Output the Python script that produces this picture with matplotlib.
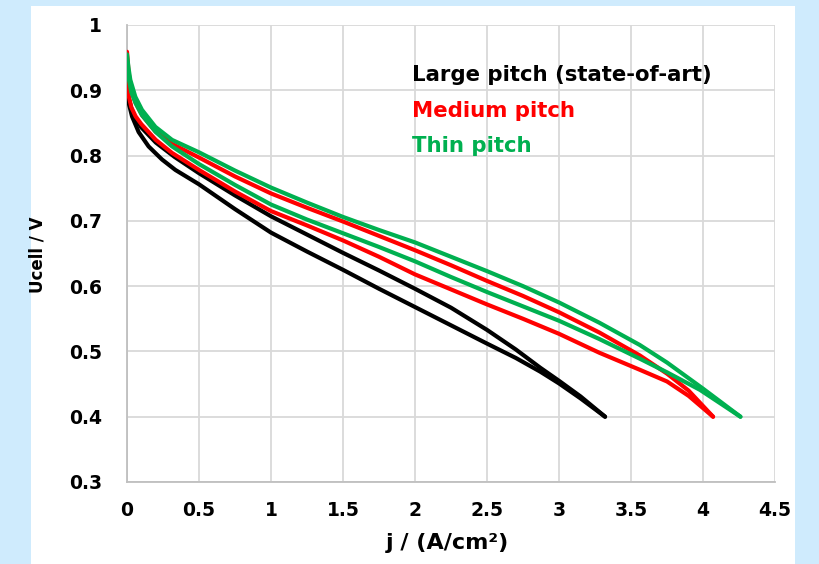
import matplotlib
matplotlib.use('Agg')
import matplotlib.pyplot as plt
from matplotlib.patches import Rectangle

plt.rcParams['font.family'] = ['DejaVu Sans']
plt.rcParams['font.weight'] = 'bold'

# polarization curves, each measured up and down (hysteresis)
largeUpJ = [0, 0.01, 0.03, 0.06, 0.1, 0.2, 0.33, 0.5, 0.75, 1.0, 1.25, 1.5, 1.75, 2.0, 2.25, 2.5, 2.7, 2.87, 3.0, 3.15, 3.32]
largeUpV = [0.906, 0.89, 0.872, 0.856, 0.843, 0.82, 0.798, 0.773, 0.739, 0.707, 0.679, 0.651, 0.624, 0.596, 0.567, 0.533, 0.503, 0.475, 0.455, 0.431, 0.40]
largeDownJ = [0, 0.01, 0.035, 0.081, 0.15, 0.243, 0.336, 0.5, 0.75, 1.0, 1.25, 1.5, 1.75, 2.0, 2.25, 2.5, 2.7, 2.87, 3.0, 3.15, 3.32]
largeDownV = [0.900, 0.882, 0.860, 0.836, 0.814, 0.794, 0.778, 0.756, 0.718, 0.682, 0.653, 0.625, 0.596, 0.568, 0.540, 0.512, 0.49, 0.469, 0.451, 0.428, 0.40]

mediumUpJ = [0, 0.01, 0.023, 0.058, 0.104, 0.197, 0.313, 0.5, 0.75, 1.0, 1.25, 1.5, 1.75, 2.0, 2.25, 2.5, 2.75, 3.0, 3.28, 3.56, 3.75, 3.9, 4.07]
mediumUpV = [0.959, 0.93, 0.908, 0.882, 0.862, 0.837, 0.818, 0.797, 0.768, 0.742, 0.72, 0.699, 0.677, 0.655, 0.632, 0.608, 0.585, 0.560, 0.529, 0.494, 0.466, 0.440, 0.40]
mediumDownJ = [0, 0.01, 0.03, 0.06, 0.1, 0.2, 0.313, 0.5, 0.75, 1.0, 1.25, 1.5, 1.75, 2.0, 2.25, 2.5, 2.75, 3.0, 3.28, 3.56, 3.75, 3.9, 4.07]
mediumDownV = [0.912, 0.893, 0.874, 0.86, 0.848, 0.824, 0.804, 0.778, 0.745, 0.715, 0.693, 0.670, 0.645, 0.618, 0.595, 0.572, 0.550, 0.527, 0.498, 0.472, 0.454, 0.432, 0.40]

thinUpJ = [0, 0.01, 0.023, 0.058, 0.104, 0.197, 0.313, 0.5, 0.75, 1.0, 1.25, 1.5, 1.75, 2.0, 2.25, 2.5, 2.75, 3.0, 3.28, 3.56, 3.75, 4.0, 4.26]
thinUpV = [0.955, 0.935, 0.916, 0.890, 0.870, 0.844, 0.824, 0.805, 0.777, 0.751, 0.728, 0.706, 0.686, 0.667, 0.645, 0.623, 0.600, 0.575, 0.544, 0.510, 0.483, 0.443, 0.40]
thinDownJ = [0, 0.01, 0.03, 0.06, 0.104, 0.2, 0.313, 0.5, 0.75, 1.0, 1.25, 1.5, 1.75, 2.0, 2.25, 2.5, 2.75, 3.0, 3.28, 3.56, 3.75, 3.98, 4.26]
thinDownV = [0.945, 0.92, 0.897, 0.880, 0.862, 0.836, 0.814, 0.787, 0.755, 0.725, 0.702, 0.681, 0.66, 0.638, 0.614, 0.591, 0.569, 0.547, 0.519, 0.489, 0.468, 0.441, 0.40]

labels = ['Large pitch (state-of-art)', 'Medium pitch', 'Thin pitch']
colors = ['#000000', '#FF0000', '#00B050']

fig = plt.figure(figsize=(8.19, 5.64), dpi=100)
fig.patch.set_facecolor('#CFEBFD')
fig.patches.append(Rectangle((31 / 819, 0), 764 / 819, 558 / 564, transform=fig.transFigure,
                             facecolor='white', edgecolor='none', zorder=-10))

ax = fig.add_axes([127 / 819, 1 - 482 / 564, 648 / 819, 457 / 564])
ax.set_facecolor('white')

curves = [(largeUpJ, largeUpV, largeDownJ, largeDownV),
          (mediumUpJ, mediumUpV, mediumDownJ, mediumDownV),
          (thinUpJ, thinUpV, thinDownJ, thinDownV)]
for (uj, uv, dj, dv), c in zip(curves, colors):
    ax.plot(uj, uv, color=c, lw=3.0, solid_capstyle='round', solid_joinstyle='round', zorder=3)
    ax.plot(dj, dv, color=c, lw=3.0, solid_capstyle='round', solid_joinstyle='round', zorder=3)

ax.set_xlim(0, 4.5)
ax.set_ylim(0.3, 1.0)
ax.set_xticks([0, 0.5, 1, 1.5, 2, 2.5, 3, 3.5, 4, 4.5])
ax.set_xticklabels(['0', '0.5', '1', '1.5', '2', '2.5', '3', '3.5', '4', '4.5'])
ax.set_yticks([0.3, 0.4, 0.5, 0.6, 0.7, 0.8, 0.9, 1.0])
ax.set_yticklabels(['0.3', '0.4', '0.5', '0.6', '0.7', '0.8', '0.9', '1'])
ax.grid(True, color='#D9D9D9', lw=1.3)
ax.set_axisbelow(True)
for s in ['top', 'right']:
    ax.spines[s].set_visible(False)
for s in ['left', 'bottom']:
    ax.spines[s].set_color('#BFBFBF')
    ax.spines[s].set_linewidth(1.3)
ax.tick_params(axis='both', length=0, labelsize=13.5)
ax.tick_params(axis='x', pad=13.5)
ax.tick_params(axis='y', pad=18)

ax.set_xlabel('j / (A/cm²)', fontsize=16, fontweight='bold')
ax.set_ylabel('Ucell / V', fontsize=12, fontweight='bold')
ax.xaxis.set_label_coords(0.494, -0.111)
ax.yaxis.set_label_coords(-0.1235, 0.497)

textY = [0.9147, 0.8587, 0.806]
for t, c, y in zip(labels, colors, textY):
    ax.text(1.98, y, t, color=c, fontsize=15.3, fontweight='bold', va='baseline', ha='left')

fig.savefig('out.png', dpi=100, facecolor=fig.get_facecolor())
